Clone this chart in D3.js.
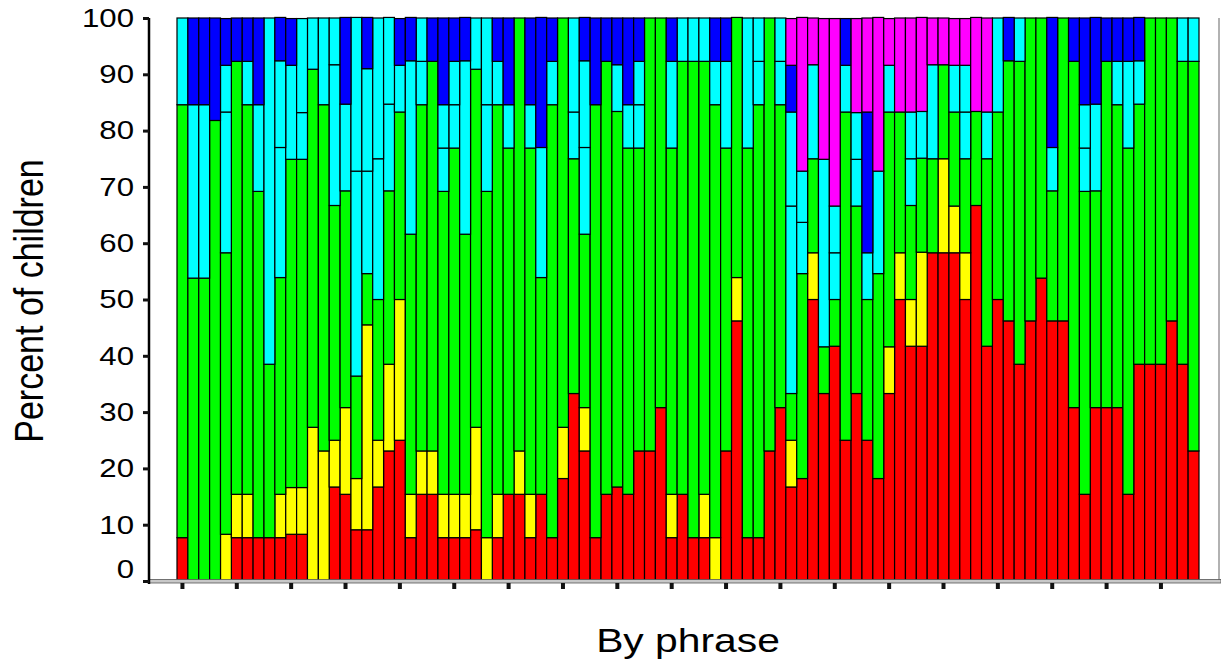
<!DOCTYPE html>
<html>
<head>
<meta charset="utf-8">
<script src="https://cdn.jsdelivr.net/npm/d3@7"></script>
<style>
  body { margin: 0; background: #fff; }
  text { font-family: "Liberation Sans", Arial, sans-serif; fill: #000; }
</style>
</head>
<body>
<svg id="chart" width="1221" height="662"></svg>
<script>
// response categories, stacked bottom to top
var SERIES = ["A", "B", "C", "D", "E", "F", "G"];
var COLORS = ["#ff0000", "#ffff00", "#00ff00", "#00ffff", "#00ffff", "#0000ff", "#ff00ff"];
var Y_TICKS = [0, 10, 20, 30, 40, 50, 60, 70, 80, 90, 100];

// percent of children per phrase, one array per category
var respA = [7.7, 0, 0, 0, 0, 7.7, 7.7, 7.7, 7.7, 7.7,
  8.3, 8.3, 0, 0, 16.7, 15.4, 9.1, 9.1, 16.7, 23.1,
  25, 7.7, 15.4, 15.4, 7.7, 7.7, 7.7, 9.1, 0, 7.7,
  15.4, 15.4, 7.7, 15.4, 7.7, 18.2, 33.3, 23.1, 7.7, 15.4,
  16.7, 15.4, 23.1, 23.1, 30.8, 7.7, 15.4, 7.7, 7.7, 0,
  23.1, 46.2, 7.7, 7.7, 23.1, 30.8, 16.7, 18.2, 50, 33.3,
  41.7, 25, 33.3, 25, 18.2, 33.3, 50, 41.7, 41.7, 58.3,
  58.3, 58.3, 50, 66.7, 41.7, 50, 46.2, 38.5, 46.2, 53.8,
  46.2, 46.2, 30.8, 15.4, 30.8, 30.8, 30.8, 15.4, 38.5, 38.5,
  38.5, 46.2, 38.5, 23.1];
var respB = [0, 0, 0, 0, 8.3, 7.7, 7.7, 0, 0, 7.7,
  8.3, 8.3, 27.3, 23.1, 8.3, 15.4, 9.1, 36.4, 8.3, 15.4,
  25, 7.7, 7.7, 7.7, 7.7, 7.7, 7.7, 18.2, 7.7, 7.7,
  0, 7.7, 7.7, 0, 0, 9.1, 0, 7.7, 0, 0,
  0, 0, 0, 0, 0, 7.7, 0, 0, 7.7, 7.7,
  0, 7.7, 0, 0, 0, 0, 8.3, 0, 8.3, 0,
  0, 0, 0, 0, 0, 8.3, 8.3, 8.3, 16.7, 0,
  16.7, 8.3, 8.3, 0, 0, 0, 0, 0, 0, 0,
  0, 0, 0, 0, 0, 0, 0, 0, 0, 0,
  0, 0, 0, 0];
var respC = [76.9, 53.8, 53.8, 81.8, 50, 76.9, 69.2, 61.5, 30.8, 38.5,
  58.3, 58.3, 63.6, 61.5, 41.7, 38.5, 18.2, 9.1, 25, 30.8,
  33.3, 46.2, 61.5, 69.2, 53.8, 61.5, 46.2, 63.6, 61.5, 69.2,
  61.5, 76.9, 61.5, 38.5, 76.9, 72.7, 41.7, 30.8, 76.9, 76.9,
  66.7, 61.5, 53.8, 76.9, 69.2, 61.5, 76.9, 84.6, 76.9, 76.9,
  53.8, 46.2, 69.2, 76.9, 76.9, 53.8, 8.3, 36.4, 16.7, 8.3,
  8.3, 58.3, 33.3, 25, 36.4, 41.7, 25, 16.7, 16.7, 16.7,
  16.7, 16.7, 16.7, 16.7, 33.3, 33.3, 46.2, 53.8, 53.8, 46.2,
  23.1, 53.8, 61.5, 53.8, 38.5, 61.5, 53.8, 61.5, 46.2, 61.5,
  61.5, 53.8, 53.8, 69.2];
var respD = [15.4, 30.8, 30.8, 0, 25, 0, 7.7, 15.4, 61.5, 23.1,
  16.7, 8.3, 9.1, 15.4, 25, 15.4, 36.4, 18.2, 25, 15.4,
  8.3, 30.8, 7.7, 0, 7.7, 7.7, 30.8, 9.1, 15.4, 7.7,
  7.7, 0, 7.7, 23.1, 7.7, 0, 8.3, 15.4, 0, 0,
  8.3, 7.7, 7.7, 0, 0, 15.4, 7.7, 7.7, 7.7, 7.7,
  15.4, 0, 23.1, 7.7, 0, 7.7, 33.3, 9.1, 16.7, 33.3,
  8.3, 8.3, 8.3, 8.3, 18.2, 8.3, 0, 8.3, 8.3, 16.7,
  0, 8.3, 8.3, 0, 8.3, 16.7, 0, 7.7, 0, 0,
  7.7, 0, 0, 7.7, 15.4, 0, 7.7, 15.4, 7.7, 0,
  0, 0, 7.7, 7.7];
var respE = [0, 0, 0, 0, 8.3, 0, 0, 0, 0, 15.4,
  0, 16.7, 0, 0, 8.3, 0, 27.3, 18.2, 25, 15.4,
  0, 0, 7.7, 0, 7.7, 7.7, 0, 0, 15.4, 0,
  0, 0, 0, 0, 0, 0, 16.7, 15.4, 0, 0,
  0, 0, 7.7, 0, 0, 0, 0, 0, 0, 0,
  0, 0, 0, 7.7, 0, 7.7, 16.7, 9.1, 0, 0,
  8.3, 0, 8.3, 0, 0, 0, 0, 8.3, 0, 0,
  0, 0, 8.3, 0, 0, 0, 0, 0, 0, 0,
  0, 0, 0, 7.7, 0, 0, 0, 0, 0, 0,
  0, 0, 0, 0];
var respF = [0, 15.4, 15.4, 18.2, 8.3, 7.7, 7.7, 15.4, 0, 7.7,
  8.3, 0, 0, 0, 0, 15.4, 0, 9.1, 0, 0,
  8.3, 7.7, 0, 7.7, 15.4, 7.7, 7.7, 0, 0, 7.7,
  15.4, 0, 15.4, 23.1, 7.7, 0, 0, 7.7, 15.4, 7.7,
  8.3, 15.4, 7.7, 0, 0, 7.7, 0, 0, 0, 7.7,
  7.7, 0, 0, 0, 0, 0, 8.3, 0, 0, 0,
  0, 8.3, 0, 25, 0, 0, 0, 0, 0, 0,
  0, 0, 0, 0, 0, 0, 7.7, 0, 0, 0,
  23.1, 0, 7.7, 15.4, 15.4, 7.7, 7.7, 7.7, 7.7, 0,
  0, 0, 0, 0];
var respG = [0, 0, 0, 0, 0, 0, 0, 0, 0, 0,
  0, 0, 0, 0, 0, 0, 0, 0, 0, 0,
  0, 0, 0, 0, 0, 0, 0, 0, 0, 0,
  0, 0, 0, 0, 0, 0, 0, 0, 0, 0,
  0, 0, 0, 0, 0, 0, 0, 0, 0, 0,
  0, 0, 0, 0, 0, 0, 8.3, 27.3, 8.3, 25,
  33.3, 0, 16.7, 16.7, 27.3, 8.3, 16.7, 16.7, 16.7, 8.3,
  8.3, 8.3, 8.3, 16.7, 16.7, 0, 0, 0, 0, 0,
  0, 0, 0, 0, 0, 0, 0, 0, 0, 0,
  0, 0, 0, 0];

var seriesValues = [respA, respB, respC, respD, respE, respF, respG];
var phrases = respA.map(function(d, i) { return i + 1; });

var rows = phrases.map(function(p, i) {
  var row = { phrase: p };
  SERIES.forEach(function(key, k) { row[key] = seriesValues[k][i]; });
  return row;
});

var svg = d3.select("#chart");

var x = d3.scaleBand().domain(phrases).range([177, 1199]).padding(0);
var y = d3.scaleLinear().domain([0, 100]).range([581, 18]);

var layers = d3.stack().keys(SERIES)(rows);

// frame: right edge and double base line
svg.append("line")
  .attr("x1", 1219).attr("x2", 1219)
  .attr("y1", y(100)).attr("y2", 583)
  .attr("stroke", "#999").attr("stroke-width", 1.5);

svg.append("g").attr("class", "bars")
  .selectAll("g").data(layers).join("g")
    .attr("fill", function(d, i) { return COLORS[i]; })
  .selectAll("rect")
  .data(function(d) { return d.filter(function(s) { return s[1] - s[0] > 0; }); })
  .join("rect")
    .attr("x", function(s) { return x(s.data.phrase); })
    .attr("y", function(s) { return y(s[1]); })
    .attr("width", x.bandwidth())
    .attr("height", function(s) { return y(s[0]) - y(s[1]); })
    .attr("stroke", "#000")
    .attr("stroke-width", 1.2);

svg.append("rect")
  .attr("x", 149).attr("y", 579.5)
  .attr("width", 1072).attr("height", 3.5)
  .attr("fill", "#c8c8c8").attr("stroke", "#555").attr("stroke-width", 0.8);

// x axis: tick every fifth phrase, no labels
var xAxis = svg.append("g")
  .attr("transform", "translate(0,583)")
  .call(d3.axisBottom(x)
    .tickValues(phrases.filter(function(d, i) { return i % 5 === 0; }))
    .tickFormat("")
    .tickSize(6)
    .tickSizeOuter(0));
xAxis.select(".domain").remove();
xAxis.selectAll(".tick line").attr("stroke", "#111").attr("stroke-width", 4);

// y axis
var yAxis = svg.append("g")
  .attr("transform", "translate(149,0)")
  .call(d3.axisLeft(y)
    .tickValues(Y_TICKS)
    .tickSize(6)
    .tickSizeOuter(0)
    .tickPadding(9));
yAxis.select(".domain").attr("stroke", "#000").attr("stroke-width", 2.5)
  .attr("d", "M0," + y(100) + "V584");
yAxis.selectAll(".tick line").attr("stroke", "#111").attr("stroke-width", 3);
yAxis.selectAll(".tick text")
  .attr("font-size", 26)
  .attr("font-family", "Liberation Sans, Arial, sans-serif")
  .attr("fill", "#000")
  .attr("x", -15 / 1.2)
  .attr("transform", function(d) { return "scale(1.2,1)" + (d === 0 ? " translate(0,-11.5)" : ""); });

svg.append("text")
  .attr("transform", "translate(43,301) scale(1.2,1) rotate(-90)")
  .attr("text-anchor", "middle")
  .attr("font-size", 34)
  .text("Percent of children");

svg.append("text")
  .attr("transform", "translate(688,652) scale(1.2,1)")
  .attr("text-anchor", "middle")
  .attr("font-size", 34)
  .text("By phrase");
</script>
</body>
</html>
